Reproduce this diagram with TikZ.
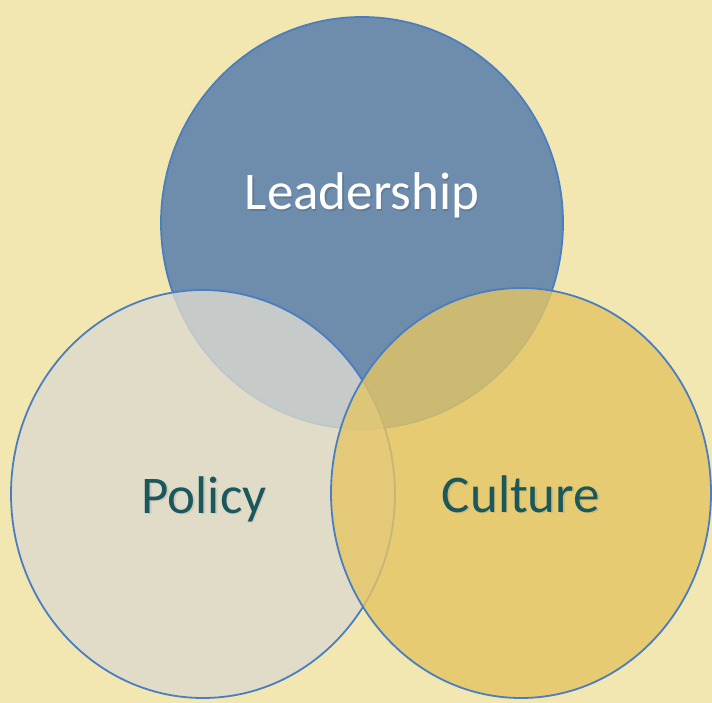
\documentclass[tikz,border=0pt]{standalone}
\usepackage{fontspec}
\setmainfont{Carlito}
\begin{document}
\definecolor{pagebg}{RGB}{242,231,176}
\definecolor{leadfill}{RGB}{110,141,173}
\definecolor{policyfill}{RGB}{220,218,207}
\definecolor{culturefill}{RGB}{228,197,100}
\definecolor{rimblue}{RGB}{74,126,192}
\definecolor{labelteal}{RGB}{26,88,94}
\begin{tikzpicture}[x=1pt,y=-1pt,
  setfield/.style={draw=rimblue, line width=1.8pt},
  biglabel/.style={font=\fontsize{53}{60}\selectfont, anchor=base, inner sep=0pt},
  labelshadow/.style={biglabel, text=black, opacity=0.12}]
  % page
  \fill[pagebg] (0,0) rectangle (712,703);
  \useasboundingbox (0,0) rectangle (712,703);

  % the three sets
  \draw[setfield, fill=leadfill] (362,223) ellipse [x radius=201, y radius=206];
  \draw[setfield, fill=policyfill, fill opacity=0.8] (203,494) ellipse [x radius=192, y radius=204];
  \draw[setfield, fill=culturefill, fill opacity=0.8] (521,493) ellipse [x radius=190, y radius=205];

  % labels with a soft drop shadow
  \node[labelshadow] (leadsh) at (363.5,211.5) {Leadership};
  \node[biglabel, text=white] (lead) at (362,210) {Leadership};
  \node[labelshadow, opacity=0.08] (polsh) at (205.5,514.5) {Policy};
  \node[biglabel, text=labelteal] (pol) at (204,513) {Policy};
  \node[labelshadow, opacity=0.08] (culsh) at (522.5,513.5) {Culture};
  \node[biglabel, text=labelteal] (cul) at (521,512) {Culture};
\end{tikzpicture}
\end{document}
